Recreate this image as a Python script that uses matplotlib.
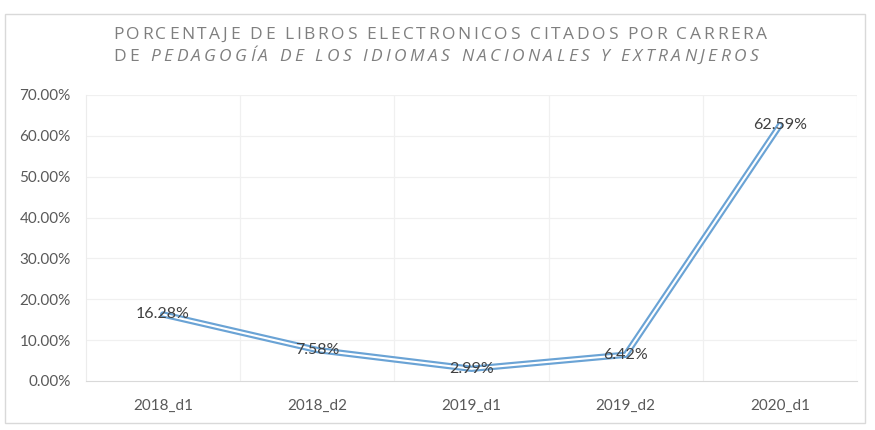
import matplotlib.pyplot as plt
from matplotlib.patches import Rectangle
from matplotlib.ticker import FuncFormatter
from matplotlib.font_manager import FontProperties

# datos
periodos = ['2018_d1', '2018_d2', '2019_d1', '2019_d2', '2020_d1']
porcentajes = [16.28, 7.58, 2.99, 6.42, 62.59]
yticks = [0, 10, 20, 30, 40, 50, 60, 70]

titulo_1 = [('PORCENTAJE DE LIBROS ELECTRONICOS CITADOS POR CARRERA', 'normal')]
titulo_2 = [('DE ', 'normal'),
            ('PEDAGOGÍA DE LOS IDIOMAS NACIONALES Y EXTRANJEROS', 'italic')]

W, H = 875, 430
fig = plt.figure(figsize=(W / 100, H / 100), dpi=100)
fig.patch.set_facecolor('white')

# borde del gráfico
fig.add_artist(Rectangle((5 / W, 1 - 423 / H), 860 / W, 409 / H,
                         transform=fig.transFigure, fill=False,
                         edgecolor='#d9d9d9', linewidth=1.0))

ax = fig.add_axes([86 / W, 1 - 381 / H, 771 / W, 286 / H])
x = list(range(len(periodos)))

# línea doble: exterior azul, centro blanco
ax.plot(x, porcentajes, color='#6aa3d5', linewidth=4.6, solid_capstyle='round',
        solid_joinstyle='round', zorder=3)
ax.plot(x, porcentajes, color='white', linewidth=1.5, solid_joinstyle='round',
        zorder=4)

for xi, v in zip(x, porcentajes):
    ax.text(xi, v, f'{v:.2f}%', ha='center', va='center', fontsize=11.5,
            color='#404040', family='Lato', zorder=5)

ax.set_xlim(-0.5, len(periodos) - 0.5)
ax.set_ylim(0, 70)
ax.set_yticks(yticks)
ax.yaxis.set_major_formatter(FuncFormatter(lambda v, p: f'{v:.2f}%'))
ax.set_xticks(x)
ax.set_xticklabels(periodos)

# rejilla muy tenue
for yv in yticks[1:]:
    ax.axhline(yv, color='#f0f0f0', linewidth=0.9, zorder=1)
for xv in [i + 0.5 for i in range(len(periodos))]:
    ax.axvline(xv, color='#f0f0f0', linewidth=0.9, zorder=1)

for s in ['top', 'right']:
    ax.spines[s].set_visible(False)
ax.spines['left'].set_color('#ececec')
ax.spines['bottom'].set_color('#d9d9d9')
ax.tick_params(axis='both', length=0, labelsize=11, labelcolor='#595959')
ax.tick_params(axis='x', pad=13)
ax.tick_params(axis='y', pad=11)
for lbl in ax.get_xticklabels() + ax.get_yticklabels():
    lbl.set_family('Lato')


# título con espaciado de letras (se dibuja letra a letra)
renderer = fig.canvas.get_renderer()


def titulo_espaciado(segmentos, y_px, x0_px, x1_px, size=12.5):
    chars = []
    for txt, estilo in segmentos:
        prop = FontProperties(family='Open Sans', style=estilo, size=size)
        for c in txt:
            w, _, _ = renderer.get_text_width_height_descent(c, prop, ismath=False)
            chars.append((c, prop, w))
    natural = sum(w for _, _, w in chars[:-1])
    track = (x1_px - x0_px - natural - chars[-1][2]) / (len(chars) - 1)
    pos = x0_px
    for c, prop, w in chars:
        if c != ' ':
            fig.text(pos / W, 1 - y_px / H, c, fontproperties=prop,
                     color='#7f7f7f', ha='left', va='center')
        pos += w + track


titulo_espaciado(titulo_1, 35, 113, 767)
titulo_espaciado(titulo_2, 57, 113, 758)

fig.savefig('out.png', dpi=100)
